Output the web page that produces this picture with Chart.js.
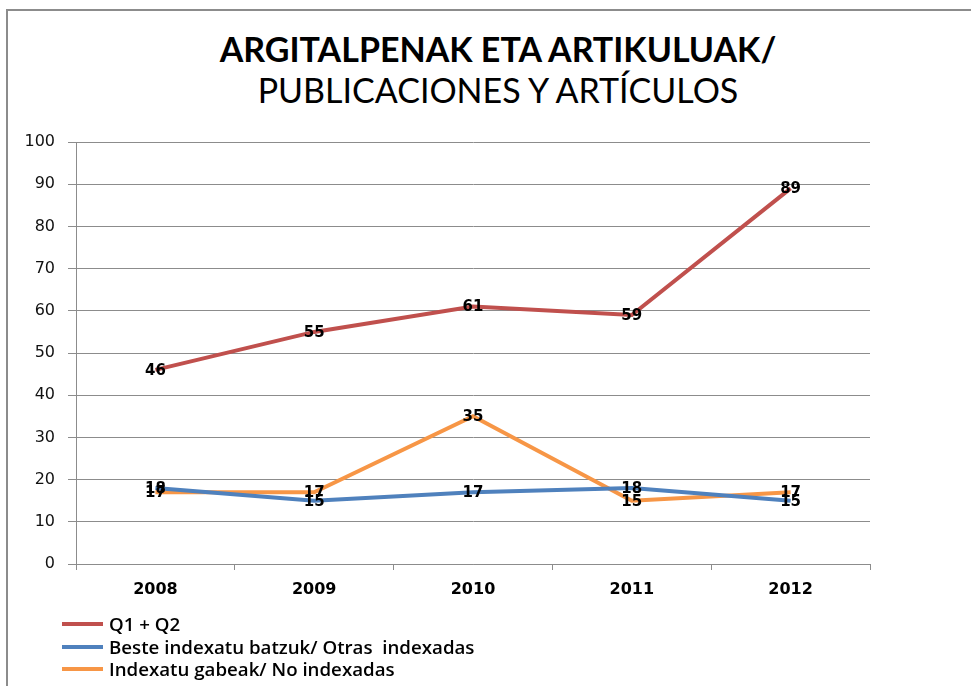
<!DOCTYPE html>
<html>
<head>
<meta charset="utf-8">
<script src="https://cdn.jsdelivr.net/npm/chart.js@4.4.1/dist/chart.umd.min.js"></script>
<style>
    html, body { margin: 0; padding: 0; background: #fff; }
    body { width: 971px; height: 686px; position: relative; overflow: hidden; }
    #frame {
        position: absolute; left: 6px; top: 9px; width: 1000px; height: 720px;
        border-left: 2px solid #8c8c8c; border-top: 2px solid #8c8c8c;
    }
    #chart { position: absolute; left: 0; top: 0; }
    .title { position: absolute; left: 0; width: 996px; text-align: center; color: #000; font-family: Lato, "Open Sans", sans-serif; white-space: nowrap; font-size: 34px; line-height: 34px; }
    #t1 { top: 32px; font-weight: bold; }
    #t2 { top: 73px; font-weight: normal; }
    #legend { position: absolute; left: 62px; top: 613px; font-family: "Open Sans", Lato, sans-serif; font-size: 18.7px; font-weight: 600; color: #000; }
    #legend div { height: 22.5px; line-height: 22.5px; white-space: pre; display: flex; align-items: center; }
    #legend span.sw { display: inline-block; width: 41px; height: 4px; margin-right: 6px; }
</style>
</head>
<body>
<div id="frame"></div>
<div class="title" id="t1">ARGITALPENAK ETA ARTIKULUAK/</div>
<div class="title" id="t2">PUBLICACIONES Y ARTÍCULOS</div>
<canvas id="chart" width="971" height="686"></canvas>
<div id="legend"></div>
<script>
// datos
const years    = ['2008', '2009', '2010', '2011', '2012'];
const q1q2     = [46, 55, 61, 59, 89];
const otras    = [18, 15, 17, 18, 15];
const noIndex  = [17, 17, 35, 15, 17];
const yTicks   = [0, 10, 20, 30, 40, 50, 60, 70, 80, 90, 100];

const seriesNames  = ['Q1 + Q2', 'Beste indexatu batzuk/ Otras  indexadas', 'Indexatu gabeak/ No indexadas'];
const seriesColors = ['#C0504D', '#4F81BD', '#F79646'];

const GRID = '#8c8c8c';

// etiquetas de valor encima de cada punto
const valueLabels = {
    id: 'valueLabels',
    afterDatasetsDraw(chart) {
        const ctx = chart.ctx;
        ctx.save();
        ctx.font = 'bold 15px "DejaVu Sans", sans-serif';
        ctx.fillStyle = '#000';
        ctx.textAlign = 'center';
        ctx.textBaseline = 'middle';
        chart.data.datasets.forEach((ds, i) => {
            chart.getDatasetMeta(i).data.forEach((pt, j) => {
                ctx.fillText(String(ds.data[j]), pt.x, pt.y + 1);
            });
        });
        ctx.restore();
    }
};

const data = [q1q2, otras, noIndex];

const chart = new Chart(document.getElementById('chart'), {
    type: 'line',
    data: {
        labels: years,
        datasets: data.map((d, i) => ({
            label: seriesNames[i],
            data: d,
            borderColor: seriesColors[i],
            backgroundColor: seriesColors[i],
            borderWidth: 4,
            pointRadius: 0,
            tension: 0,
            fill: false
        }))
    },
    options: {
        responsive: false,
        animation: false,
        layout: { padding: { left: 10, right: 101, top: 142, bottom: 72 } },
        plugins: {
            legend: { display: false },
            tooltip: { enabled: false }
        },
        scales: {
            x: {
                offset: true,
                grid: { offset: true, drawOnChartArea: false, color: GRID, tickLength: 6 },
                border: { color: GRID },
                ticks: {
                    color: '#000',
                    padding: 10,
                    font: { family: '"DejaVu Sans", sans-serif', size: 16, weight: 'bold' }
                },
                afterFit(scale) { scale.height = 50; }
            },
            y: {
                min: 0,
                max: 100,
                afterBuildTicks(scale) { scale.ticks = yTicks.map(v => ({ value: v })); },
                grid: { color: GRID, tickLength: 8 },
                border: { color: GRID },
                ticks: {
                    color: '#111',
                    padding: 13,
                    font: { family: '"DejaVu Sans", sans-serif', size: 16 }
                },
                afterFit(scale) { scale.width = 66; }
            }
        }
    },
    plugins: [valueLabels]
});

// leyenda vertical abajo a la izquierda
const legend = document.getElementById('legend');
chart.data.datasets.forEach(ds => {
    const row = document.createElement('div');
    const sw = document.createElement('span');
    sw.className = 'sw';
    sw.style.background = ds.borderColor;
    row.appendChild(sw);
    row.appendChild(document.createTextNode(ds.label));
    legend.appendChild(row);
});
</script>
</body>
</html>
